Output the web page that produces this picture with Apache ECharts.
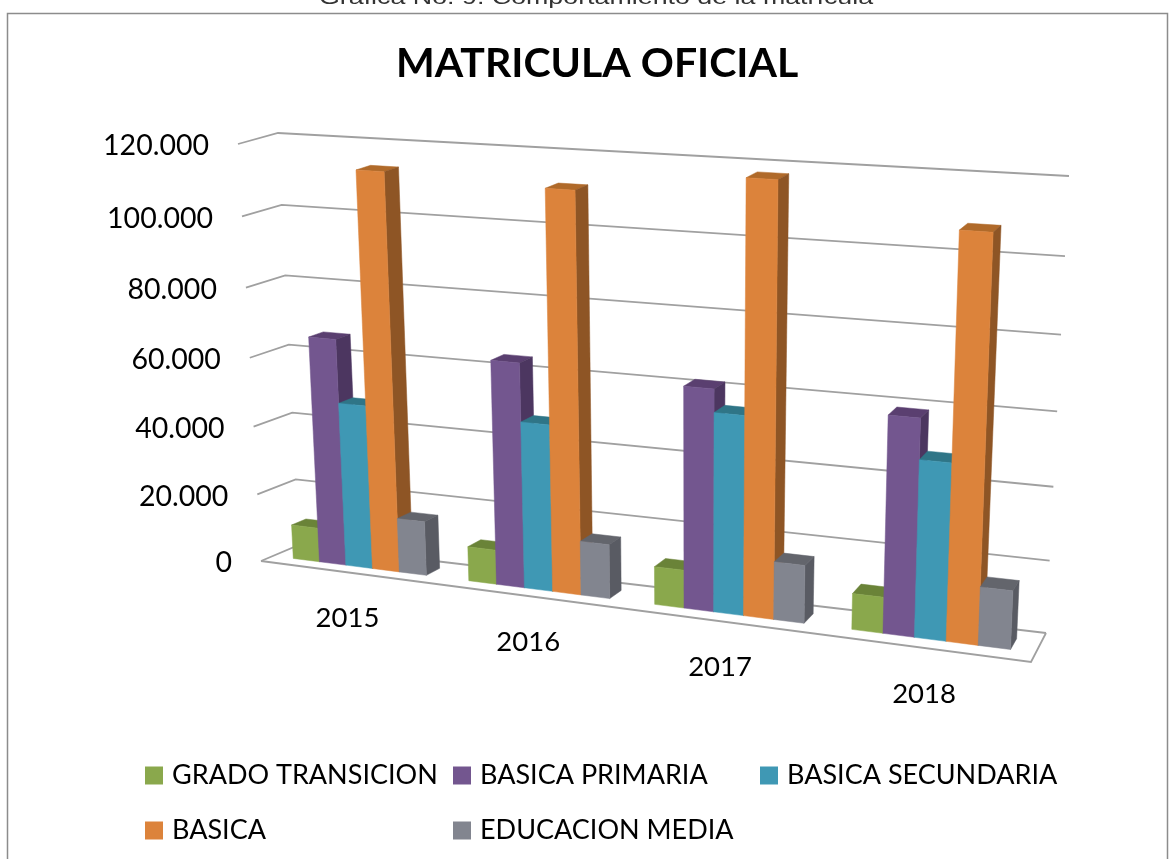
<!DOCTYPE html>
<html><head><meta charset="utf-8">
<style>html,body{margin:0;padding:0;background:#fff}#c{width:1170px;height:859px}</style>
<script src="https://cdn.jsdelivr.net/npm/echarts@6/dist/echarts.min.js"></script>
</head><body><div id="c"></div>
<script>
const categories = ['2015','2016','2017','2018'];
const tickValues = [0,20000,40000,60000,80000,100000,120000];
const tickLabels = ['0','20.000','40.000','60.000','80.000','100.000','120.000'];
const gradoTransicion = [10100,10000,10800,10000];
const basicaPrimaria = [66000,64100,61900,59300];
const basicaSecundaria = [47700,47600,55500,48300];
const basica = [113700,112000,118000,108200];
const educacionMedia = [15800,15500,16200,16000];

function quad(p0,p1,p2,p3){
  const dx1=p1[0]-p2[0],dx2=p3[0]-p2[0],sx=p0[0]-p1[0]+p2[0]-p3[0];
  const dy1=p1[1]-p2[1],dy2=p3[1]-p2[1],sy=p0[1]-p1[1]+p2[1]-p3[1];
  const D=dx1*dy2-dx2*dy1,g=(sx*dy2-dx2*sy)/D,h=(dx1*sy-sx*dy1)/D;
  const a=p1[0]-p0[0]+g*p1[0],b=p3[0]-p0[0]+h*p3[0],c=p0[0];
  const d=p1[1]-p0[1]+g*p1[1],e=p3[1]-p0[1]+h*p3[1],f=p0[1];
  return (u,v)=>{const q=g*u+h*v+1;return [(a*u+b*v+c)/q,(d*u+e*v+f)/q];};
}
// the box: front and back planes of the 3D view
const front = quad([261,561],[1031,662],[1050,194],[238,144]);
const back  = quad([299,545],[1046,633],[1069,176],[278,133]);
function proj(u,v,w){const a=front(u,v),b=back(u,v);return [a[0]+(b[0]-a[0])*w,a[1]+(b[1]-a[1])*w];}
function uv(pt,cs){return [(pt[0]-cs.x)/cs.width,(cs.y+cs.height-pt[1])/cs.height];}
const W0=0.32,W1=0.7,GAP=1.55,N=5;

const palette=[
 {f:'#8AA84C',t:'#6A8338',s:'#5F7632'},
 {f:'#73568F',t:'#5A3F70',s:'#4C3660'},
 {f:'#3F98B4',t:'#2F7587',s:'#2A6A7C'},
 {f:'#DC833B',t:'#B06A2A',s:'#8E5525'},
 {f:'#82858F',t:'#63656C',s:'#595B63'}];

function barItem(i){return function(params,api){
  const cs=params.coordSys;
  const c=api.coord([api.value(0),api.value(1)]);
  const band=api.size([1,0])[0], bw=band/(N+GAP);
  const x0=c[0]+(i-N/2)*bw, x1=x0+bw;
  const u0=(x0-cs.x)/cs.width,u1=(x1-cs.x)/cs.width;
  const v=uv(c,cs)[1];
  const P=proj;
  const shape=(pts,fill)=>({type:'polygon',shape:{points:pts},style:{fill:fill,stroke:fill,lineWidth:0.5}});
  return {type:'group',children:[
    shape([P(u0,v,W0),P(u0,v,W1),P(u1,v,W1),P(u1,v,W0)],palette[i].t),
    shape([P(u1,0,W0),P(u1,0,W1),P(u1,v,W1),P(u1,v,W0)],palette[i].s),
    shape([P(u0,0,W0),P(u1,0,W0),P(u1,v,W0),P(u0,v,W0)],palette[i].f)
  ]};
};}
const names=['GRADO TRANSICION','BASICA PRIMARIA','BASICA SECUNDARIA','BASICA','EDUCACION MEDIA'];
const values=[gradoTransicion,basicaPrimaria,basicaSecundaria,basica,educacionMedia];
const FONT='Lato';
const LINE={fill:null,stroke:'#A0A0A0',lineWidth:1.8};
const series=[{
  type:'custom',silent:true,z:1,encode:{x:0,y:1},
  data:tickValues.map((t,k)=>[0,t,tickLabels[k]]),
  renderItem(params,api){
    const cs=params.coordSys, v=uv(api.coord([0,api.value(1)]),cs)[1];
    const ch=[{type:'polyline',shape:{points:[proj(0,v,0),proj(0,v,1),proj(1,v,1)]},style:LINE}];
    if(api.value(1)===0) ch.push({type:'polyline',shape:{points:[proj(1,0,1),proj(1,0,0),proj(0,0,0)]},style:LINE});
    const a=proj(0,v,0);
    ch.push({type:'text',style:{text:tickLabels[params.dataIndex],x:a[0]-29,y:a[1]+2,align:'right',verticalAlign:'middle',font:'28.5px '+FONT,fill:'#000'}});
    return {type:'group',children:ch};
  }
},{
  type:'custom',silent:true,z:1,encode:{x:0,y:1},
  data:categories.map((c,k)=>[k,0]),
  renderItem(params,api){
    const cs=params.coordSys, p=api.coord([api.value(0),0]);
    const a=proj((p[0]-cs.x)/cs.width,0,0);
    return {type:'text',style:{text:categories[params.dataIndex],x:a[0],y:a[1]+46,align:'center',verticalAlign:'middle',font:'27.5px '+FONT,fill:'#000'}};
  }
}].concat(names.map((n,i)=>({
  name:n,type:'custom',z:2+i,silent:true,itemStyle:{color:palette[i].f},encode:{x:0,y:1},
  data:values[i].map((val,k)=>[k,val]),renderItem:barItem(i)
})));
const legendPos=[[140,757],[448,757],[755,757],[140,812],[448,812]];
const chart=echarts.init(document.getElementById('c'),null,{renderer:'canvas'});
chart.setOption({
  animation:false,backgroundColor:'#fff',
  title:{text:'MATRICULA OFICIAL',left:391,top:38,textStyle:{fontFamily:FONT,fontWeight:'bold',fontSize:41,color:'#000'}},
  graphic:[
    {type:'rect',shape:{x:7.5,y:13.5,width:1160,height:860},style:{fill:null,stroke:'#8C8C8C',lineWidth:1.5},z:-1},
    {type:'text',x:319,y:-2,scaleX:1.34,style:{text:'Gráfica No. 9. Comportamiento de la matrícula',font:'20px "Liberation Sans"',fill:'#333',verticalAlign:'middle'}}
  ],
  grid:{left:240,top:145,width:800,height:417},
  xAxis:{type:'category',data:categories,show:false},
  yAxis:{type:'value',min:0,max:120000,interval:20000,show:false},
  legend:names.map((n,i)=>({data:[n],left:legendPos[i][0],top:legendPos[i][1],selectedMode:false,icon:'rect',itemWidth:18,itemHeight:18,itemGap:9,textStyle:{fontFamily:FONT,fontSize:27,color:'#000',padding:[0,0,3,4]}})),
  series:series
});
</script></body></html>
